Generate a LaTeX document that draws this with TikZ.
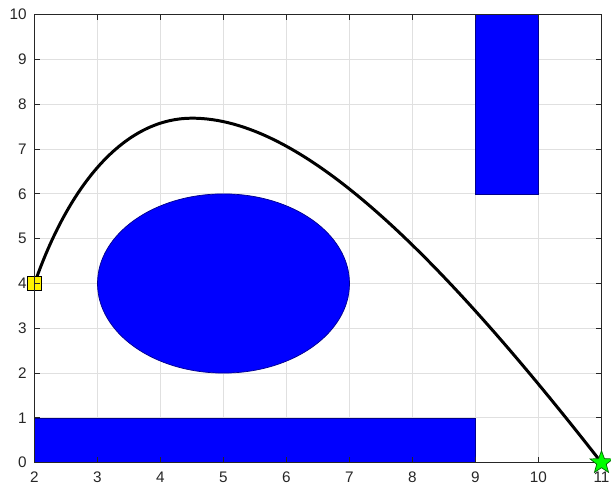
\documentclass[tikz,border=0pt]{standalone}
\usepackage{fontspec}
\setmainfont{Liberation Sans}
\usetikzlibrary{shapes.geometric}
\definecolor{gridgray}{HTML}{E0E0E0}
\definecolor{axisgray}{HTML}{262626}
\definecolor{obstblue}{HTML}{0000FF}
\definecolor{goalgreen}{HTML}{00FF00}

\begin{document}
\begin{tikzpicture}[
  x=1.26cm, y=0.896cm,
  font=\fontsize{8.7}{10}\selectfont,
  gridline/.style={draw=gridgray, line width=0.5pt},
  axisline/.style={draw=axisgray, line width=0.6pt},
  obstacle/.style={fill=obstblue, draw=blue!55!black, line width=0.4pt},
  pathline/.style={draw=black, line width=1.7pt},
  startmark/.style={rectangle, draw=black, fill=yellow, minimum size=0.28cm,
                    inner sep=0pt, line width=0.4pt},
  goalmark/.style={star, star points=5, star point ratio=2.4, draw=black!60!green,
                   fill=goalgreen, minimum size=0.48cm, inner sep=0pt, line width=0.4pt},
  ticklab/.style={text=axisgray, inner sep=0pt}
]
\useasboundingbox (1.4524,-0.6696) rectangle (11.151,10.328);

% Grid
\foreach \x in {3,...,10} \draw[gridline] (\x,0) -- (\x,10);
\foreach \y in {1,...,9} \draw[gridline] (2,\y) -- (11,\y);

% Obstacles
\draw[obstacle] (5,4) ellipse [x radius=2, y radius=2];
\draw[obstacle] (2,0) rectangle (9,1);
\draw[obstacle] (9,6) rectangle (10,10);

% Path from start to goal
\coordinate (startpt) at (2,4);
\coordinate (toppt) at (4.5,7.69);
\coordinate (goalpt) at (11,0);
\draw[pathline] (startpt) .. controls (2.6,6.4) and (3.5,7.69) .. (toppt)
  .. controls (6.2,7.69) and (8.3,4.86) .. (goalpt);

\node[startmark] (start) at (startpt) {};

% Axes
\foreach \x in {2,...,11} {
  \draw[axisline] (\x,0) -- ++(0,0.125);
  \draw[axisline] (\x,10) -- ++(0,-0.125);
  \node[ticklab, below=0.17cm] (xt\x) at (\x,0) {\x};
}
\foreach \y in {0,...,10} {
  \draw[axisline] (2,\y) -- ++(0.089,0);
  \draw[axisline] (11,\y) -- ++(-0.089,0);
  \node[ticklab, left=0.15cm] (yt\y) at (2,\y) {\y};
}
\draw[axisline] (2,0) rectangle (11,10);

\node[goalmark] (goal) at (goalpt) {};

\end{tikzpicture}
\end{document}
